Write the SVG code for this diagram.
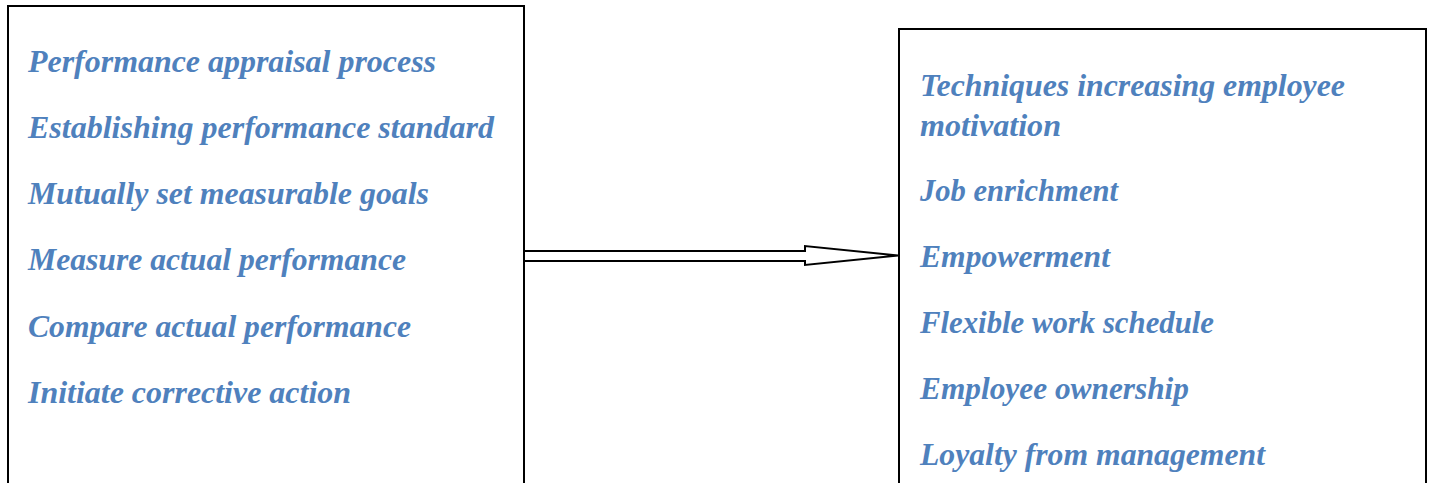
<svg xmlns="http://www.w3.org/2000/svg" width="1433" height="483" viewBox="0 0 1433 483">
  <style>
    .box { fill: #ffffff; stroke: #000000; stroke-width: 2; }
    .item { font-family: "Liberation Serif", "DejaVu Serif", serif; font-size: 32px; font-weight: bold; font-style: italic; fill: #4F81BD; }
    .arrow { fill: #ffffff; stroke: #000000; stroke-width: 2; stroke-linejoin: miter; }
  </style>
  <rect width="1433" height="483" fill="#ffffff"/>

  <!-- Appraisal process box -->
  <g id="appraisal">
    <rect class="box" x="8" y="6" width="516" height="500"/>
    <text class="item" x="28" y="72" textLength="408" lengthAdjust="spacingAndGlyphs">Performance appraisal process</text>
    <text class="item" x="28" y="138" textLength="466" lengthAdjust="spacingAndGlyphs">Establishing performance standard</text>
    <text class="item" x="28" y="204" textLength="401" lengthAdjust="spacingAndGlyphs">Mutually set measurable goals</text>
    <text class="item" x="28" y="270" textLength="378" lengthAdjust="spacingAndGlyphs">Measure actual performance</text>
    <text class="item" x="28" y="337" textLength="383" lengthAdjust="spacingAndGlyphs">Compare actual performance</text>
    <text class="item" x="28" y="403" textLength="323" lengthAdjust="spacingAndGlyphs">Initiate corrective action</text>
  </g>

  <!-- Motivation techniques box -->
  <g id="motivation">
    <rect class="box" x="899" y="29" width="527" height="480"/>
    <text class="item" x="920" y="96" textLength="425" lengthAdjust="spacingAndGlyphs">Techniques increasing employee</text>
    <text class="item" x="920" y="136" textLength="141" lengthAdjust="spacingAndGlyphs">motivation</text>
    <text class="item" x="920" y="201" textLength="198" lengthAdjust="spacingAndGlyphs">Job enrichment</text>
    <text class="item" x="920" y="267" textLength="190" lengthAdjust="spacingAndGlyphs">Empowerment</text>
    <text class="item" x="920" y="333" textLength="294" lengthAdjust="spacingAndGlyphs">Flexible work schedule</text>
    <text class="item" x="920" y="399" textLength="269" lengthAdjust="spacingAndGlyphs">Employee ownership</text>
    <text class="item" x="920" y="465" textLength="345" lengthAdjust="spacingAndGlyphs">Loyalty from management</text>
  </g>

  <!-- Connector: hollow block arrow -->
  <g id="connectors">
    <polygon class="arrow" points="524,251 805,251 805,246 898,255.5 805,265 805,261 524,261"/>
  </g>
</svg>
